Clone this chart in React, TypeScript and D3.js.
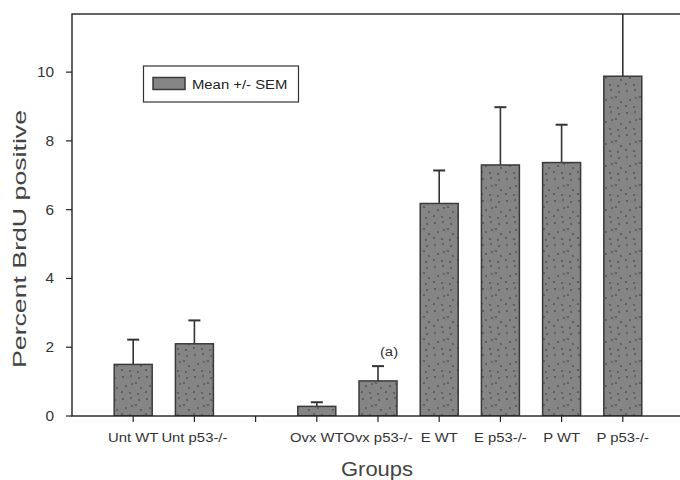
import React, { useEffect, useRef } from 'react';
import * as d3 from 'd3';

// groups, an empty slot keeps the gap between Unt and Ovx
const groups = ['Unt WT', 'Unt p53-/-', '', 'Ovx WT', 'Ovx p53-/-', 'E WT', 'E p53-/-', 'P WT', 'P p53-/-'];
const means = [1.5, 2.1, null, 0.28, 1.02, 6.18, 7.3, 7.37, 9.88];
const sems = [0.72, 0.68, null, 0.12, 0.43, 0.96, 1.68, 1.1, 2.3];
const yTicks = [0, 2, 4, 6, 8, 10];
const notes = [{ group: 'Ovx p53-/-', text: '(a)' }];

const W = 680;
const H = 480;
const FONT = '"Liberation Sans", Arial, sans-serif';

const App = () => {
  const ref = useRef<SVGSVGElement | null>(null);

  useEffect(() => {
    const svg = d3.select(ref.current);
    svg.selectAll('*').remove();

    const left = 72, top = 14, bottom = 416, right = 684;
    const sx = 1.1; // text is a bit wide in the picture

    const x = d3.scalePoint<string>().domain(groups.map((g, i) => g || 'gap' + i)).range([left, right]).padding(1);
    const y = d3.scaleLinear().domain([0, 11.69]).range([bottom, top]);
    const barW = 38;

    const defs = svg.append('defs');
    const pat = defs
      .append('pattern')
      .attr('id', 'dots')
      .attr('patternUnits', 'userSpaceOnUse')
      .attr('width', 24)
      .attr('height', 22);
    pat.append('rect').attr('width', 24).attr('height', 22).attr('fill', '#858585');
    [[3, 3], [11, 2], [19, 4], [6, 12], [12, 10], [16, 9], [21, 14], [2, 18], [10, 19], [18, 20]].forEach(([cx, cy]) => {
      pat.append('circle').attr('cx', cx).attr('cy', cy).attr('r', 0.75).attr('fill', '#2a2a2a');
    });
    defs
      .append('clipPath')
      .attr('id', 'plot')
      .append('rect')
      .attr('x', left)
      .attr('y', top)
      .attr('width', right - left)
      .attr('height', bottom - top);

    const g = svg.append('g');
    const keys = x.domain();

    // bars with upward error bars
    const plot = g.append('g').attr('clip-path', 'url(#plot)');
    keys.forEach((k, i) => {
      const m = means[i];
      const s = sems[i];
      if (m == null || s == null) return;
      const cx = x(k) as number;
      plot
        .append('line')
        .attr('x1', cx)
        .attr('x2', cx)
        .attr('y1', y(m))
        .attr('y2', y(m + s))
        .attr('stroke', '#333')
        .attr('stroke-width', 1.6);
      plot
        .append('line')
        .attr('x1', cx - 6)
        .attr('x2', cx + 6)
        .attr('y1', y(m + s))
        .attr('y2', y(m + s))
        .attr('stroke', '#333')
        .attr('stroke-width', 2);
      plot
        .append('rect')
        .attr('x', cx - barW / 2)
        .attr('y', y(m))
        .attr('width', barW)
        .attr('height', y(0) - y(m))
        .attr('fill', 'url(#dots)')
        .attr('stroke', '#3a3a3a')
        .attr('stroke-width', 1.5);
    });

    // frame
    g.append('rect')
      .attr('x', left)
      .attr('y', top)
      .attr('width', right - left)
      .attr('height', bottom - top)
      .attr('fill', 'none')
      .attr('stroke', '#222')
      .attr('stroke-width', 1.4);

    // y axis
    yTicks.forEach((t) => {
      g.append('line')
        .attr('x1', left - 6)
        .attr('x2', left)
        .attr('y1', y(t))
        .attr('y2', y(t))
        .attr('stroke', '#222')
        .attr('stroke-width', 1.2);
      g.append('text')
        .attr('transform', `translate(${left - 18},${y(t) + 5}) scale(${sx},1)`)
        .attr('text-anchor', 'end')
        .attr('font-family', FONT)
        .attr('font-size', 14)
        .attr('fill', '#333')
        .text(t);
    });

    // x axis
    keys.forEach((k, i) => {
      const cx = x(k) as number;
      g.append('line')
        .attr('x1', cx)
        .attr('x2', cx)
        .attr('y1', bottom)
        .attr('y2', bottom + 6)
        .attr('stroke', '#222')
        .attr('stroke-width', 1.2);
      if (groups[i]) {
        g.append('text')
          .attr('transform', `translate(${cx},${bottom + 26}) scale(${sx},1)`)
          .attr('text-anchor', 'middle')
          .attr('font-family', FONT)
          .attr('font-size', 13.5)
          .attr('fill', '#333')
          .text(groups[i]);
      }
    });

    notes.forEach((n) => {
      const i = groups.indexOf(n.group);
      const cx = x(keys[i]) as number;
      g.append('text')
        .attr('transform', `translate(${cx + 11},${y((means[i] || 0) + (sems[i] || 0)) - 10}) scale(${sx},1)`)
        .attr('text-anchor', 'middle')
        .attr('font-family', FONT)
        .attr('font-size', 13.5)
        .attr('fill', '#333')
        .text(n.text);
    });

    // axis titles
    g.append('text')
      .attr('transform', `translate(377,476) scale(${sx},1)`)
      .attr('text-anchor', 'middle')
      .attr('font-family', FONT)
      .attr('font-size', 20)
      .attr('fill', '#444')
      .text('Groups');
    g.append('text')
      .attr('transform', 'translate(26,239) rotate(-90)')
      .attr('text-anchor', 'middle')
      .attr('font-family', FONT)
      .attr('font-size', 19)
      .attr('textLength', 258)
      .attr('lengthAdjust', 'spacingAndGlyphs')
      .attr('fill', '#444')
      .text('Percent BrdU positive');

    // legend
    const lg = g.append('g');
    lg.append('rect')
      .attr('x', 143.5)
      .attr('y', 66)
      .attr('width', 155)
      .attr('height', 36)
      .attr('fill', '#fff')
      .attr('stroke', '#333')
      .attr('stroke-width', 1.2);
    lg.append('rect')
      .attr('x', 153)
      .attr('y', 77.5)
      .attr('width', 32)
      .attr('height', 12)
      .attr('fill', '#858585')
      .attr('stroke', '#3a3a3a')
      .attr('stroke-width', 1.5);
    lg.append('text')
      .attr('transform', `translate(192,88.5) scale(${sx},1)`)
      .attr('font-family', FONT)
      .attr('font-size', 13.5)
      .attr('fill', '#222')
      .text('Mean +/- SEM');
  }, []);

  return (
    <svg
      ref={ref}
      width={W}
      height={H}
      style={{ position: 'absolute', left: 0, top: 0, background: '#fff' }}
    />
  );
};

export default App;
